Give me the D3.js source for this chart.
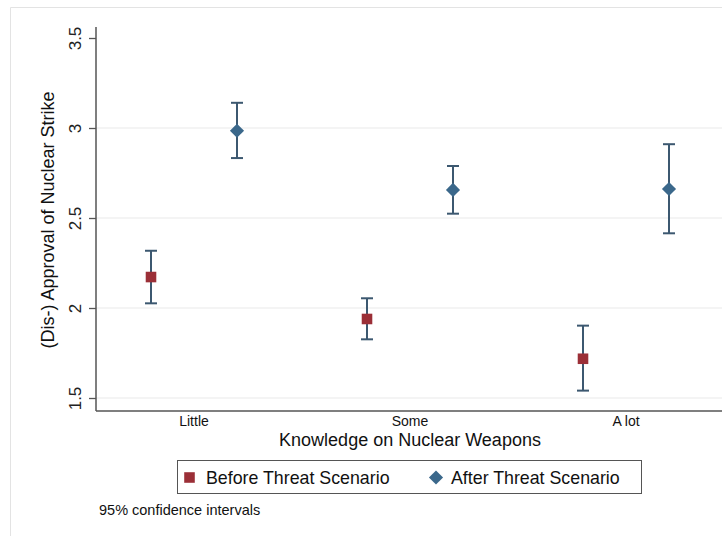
<!DOCTYPE html>
<html>
<head>
<meta charset="utf-8">
<script src="https://cdn.jsdelivr.net/npm/d3@7"></script>
<style>
    body { margin: 0; background: #fff; }
    svg { display: block; font-family: "Liberation Sans", Arial, Helvetica, sans-serif; }
</style>
</head>
<body>
<div id="chart"></div>
<script>
// values
var categories = ["Little", "Some", "A lot"]
var series = ["Before Threat Scenario", "After Threat Scenario"]

var beforeMean = [2.172, 1.939, 1.718]
var beforeLo   = [2.026, 1.826, 1.541]
var beforeHi   = [2.318, 2.054, 1.902]

var afterMean = [2.985, 2.656, 2.661]
var afterLo   = [2.833, 2.524, 2.415]
var afterHi   = [3.140, 2.789, 2.910]

var yTicks = [1.5, 2, 2.5, 3, 3.5]
var yGrid = [1.5, 2, 2.5, 3]

var width = 722, height = 536

var svg = d3.select("#chart").append("svg")
    .attr("width", width)
    .attr("height", height)

// outer graph region frame
svg.append("path")
    .attr("d", "M10.5,536V7.5H722")
    .attr("fill", "none")
    .attr("stroke", "#e3e3e3")
    .attr("stroke-width", 1)

var plot = { left: 96, top: 27, bottom: 411, right: 722 }

var y = d3.scaleLinear().domain([1.5, 3.5]).range([398, 38])

var x = d3.scaleBand().domain(categories).range([86, 734]).paddingInner(0).paddingOuter(0)
var xs = d3.scalePoint().domain(series).range([0, x.bandwidth()]).padding(0.756)

// grid
svg.append("g")
    .selectAll("line")
    .data(yGrid)
    .enter().append("line")
    .attr("x1", plot.left)
    .attr("x2", plot.right)
    .attr("y1", d => y(d))
    .attr("y2", d => y(d))
    .attr("stroke", "#e9e9e9")
    .attr("stroke-width", 1.2)

// y axis
var yAxis = svg.append("g")
    .attr("transform", `translate(${plot.left},0)`)
    .call(d3.axisLeft(y).tickValues(yTicks).tickSize(7).tickFormat(d3.format("")))

yAxis.select(".domain").remove()
yAxis.selectAll(".tick line").attr("stroke", "#555").attr("stroke-width", 1.3)
yAxis.selectAll(".tick text")
    .attr("x", null).attr("dy", null)
    .attr("transform", "translate(-15,0) rotate(-90)")
    .attr("text-anchor", "middle")
    .attr("font-size", 17)
    .attr("fill", "#222")

// axis lines
svg.append("line")
    .attr("x1", plot.left).attr("x2", plot.left)
    .attr("y1", plot.top).attr("y2", plot.bottom)
    .attr("stroke", "#555").attr("stroke-width", 1.5)
svg.append("line")
    .attr("x1", plot.left).attr("x2", plot.right)
    .attr("y1", plot.bottom).attr("y2", plot.bottom)
    .attr("stroke", "#555").attr("stroke-width", 1.5)

// x labels (no ticks)
var xAxis = svg.append("g")
    .attr("transform", `translate(0,${plot.bottom})`)
    .call(d3.axisBottom(x).tickSize(0).tickPadding(0))
xAxis.select(".domain").remove()
xAxis.selectAll(".tick text")
    .attr("y", 15).attr("dy", null)
    .attr("font-size", 14)
    .attr("fill", "#111")

// titles
svg.append("text")
    .attr("x", 410)
    .attr("y", 446)
    .attr("text-anchor", "middle")
    .attr("font-size", 18)
    .attr("fill", "#111")
    .text("Knowledge on Nuclear Weapons")

svg.append("text")
    .attr("transform", "translate(53.5,220) rotate(-90)")
    .attr("text-anchor", "middle")
    .attr("font-size", 18)
    .attr("fill", "#111")
    .text("(Dis-) Approval of Nuclear Strike")

// points
var rows = categories.map((c, i) => [
    { cat: c, s: series[0], m: beforeMean[i], lo: beforeLo[i], hi: beforeHi[i] },
    { cat: c, s: series[1], m: afterMean[i], lo: afterLo[i], hi: afterHi[i] }
]).flat()

var px = d => x(d.cat) + xs(d.s)
var barColor = "#3c5870"
var colorScale = d3.scaleOrdinal().domain(series).range(["#9b2f37", "#3b688b"])

var bars = svg.append("g")
    .selectAll("g")
    .data(rows)
    .enter().append("g")
    .attr("stroke", barColor)
    .attr("stroke-width", 2)

bars.append("line")
    .attr("x1", px).attr("x2", px)
    .attr("y1", d => y(d.lo)).attr("y2", d => y(d.hi))
bars.append("line")
    .attr("x1", d => px(d) - 6).attr("x2", d => px(d) + 6)
    .attr("y1", d => y(d.hi)).attr("y2", d => y(d.hi))
bars.append("line")
    .attr("x1", d => px(d) - 6).attr("x2", d => px(d) + 6)
    .attr("y1", d => y(d.lo)).attr("y2", d => y(d.lo))

var square = d3.symbol().type(d3.symbolSquare).size(112)
var diamond = d3.symbol().type(d3.symbolSquare).size(100)

svg.append("g")
    .selectAll("path")
    .data(rows)
    .enter().append("path")
    .attr("d", d => d.s === series[0] ? square() : diamond())
    .attr("transform", d => `translate(${px(d)},${y(d.m)})` + (d.s === series[1] ? " rotate(45)" : ""))
    .attr("fill", d => colorScale(d.s))

// legend
var legend = svg.append("g")
legend.append("rect")
    .attr("x", 177.5).attr("y", 460.5)
    .attr("width", 464).attr("height", 33)
    .attr("fill", "#fff")
    .attr("stroke", "#555")
    .attr("stroke-width", 1)

var legendItems = [
    { s: series[0], mx: 189.5, tx: 206 },
    { s: series[1], mx: 436, tx: 451 }
]
legend.selectAll("path")
    .data(legendItems)
    .enter().append("path")
    .attr("d", d => d.s === series[0] ? square() : diamond())
    .attr("transform", d => `translate(${d.mx},477.5)` + (d.s === series[1] ? " rotate(45)" : ""))
    .attr("fill", d => colorScale(d.s))
legend.selectAll("text")
    .data(legendItems)
    .enter().append("text")
    .attr("x", d => d.tx)
    .attr("y", 484)
    .attr("font-size", 17.8)
    .attr("fill", "#111")
    .text(d => d.s)

svg.append("text")
    .attr("x", 99)
    .attr("y", 515)
    .attr("font-size", 14.5)
    .attr("fill", "#111")
    .text("95% confidence intervals")
</script>
</body>
</html>
